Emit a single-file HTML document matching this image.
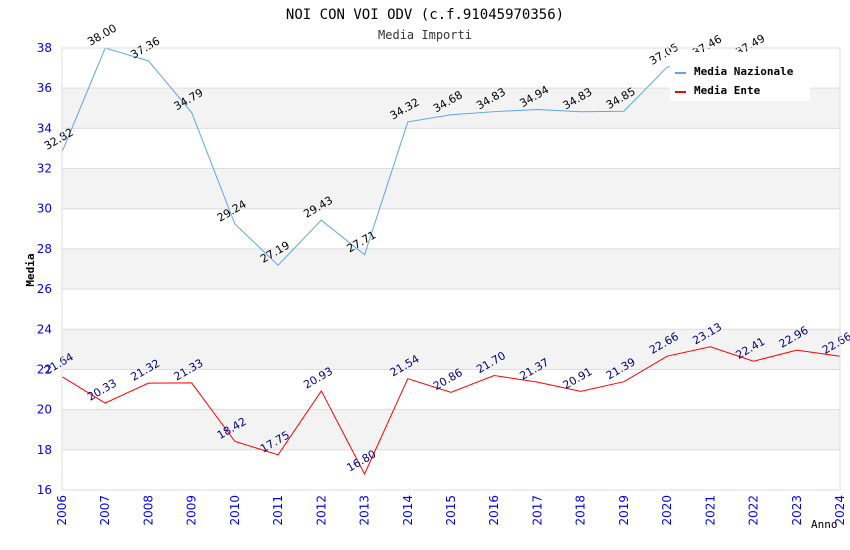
<!DOCTYPE html>
<html><head><meta charset="utf-8"><style>
body{margin:0;background:#fff}
svg{display:block;font-family:"DejaVu Sans Mono","Liberation Mono",monospace}
</style></head><body>
<svg id="chart" width="850" height="550" xmlns="http://www.w3.org/2000/svg">
<text x="425" y="19" text-anchor="middle" font-size="14">NOI CON VOI ODV (c.f.91045970356)</text>
<text x="425" y="39" text-anchor="middle" font-size="12" fill="#333">Media Importi</text>
<g id="grid"></g><g id="series"></g><g id="axes"></g>
<text transform="translate(34,270) rotate(-90)" text-anchor="middle" font-size="11" font-weight="bold">Media</text>
<text x="811" y="528" font-size="11">Anno</text>
<g id="legend">
<rect x="670" y="52" width="140" height="49" fill="#fff"/>
<line x1="675" y1="73" x2="686" y2="73" stroke="#5aa5f0" stroke-width="2"/>
<text x="694" y="75" font-size="11" font-weight="bold">Media Nazionale</text>
<line x1="675" y1="92" x2="686" y2="92" stroke="#f00" stroke-width="2"/>
<text x="694" y="94" font-size="11" font-weight="bold">Media Ente</text>
</g>
</svg>
<script>
const years=[2006,2007,2008,2009,2010,2011,2012,2013,2014,2015,2016,2017,2018,2019,2020,2021,2022,2023,2024];
const nazionale=[32.82,38.00,37.36,34.79,29.24,27.19,29.43,27.71,34.32,34.68,34.83,34.94,34.83,34.85,37.05,37.46,37.49,null,null];
const ente=[21.64,20.33,21.32,21.33,18.42,17.75,20.93,16.80,21.54,20.86,21.70,21.37,20.91,21.39,22.66,23.13,22.41,22.96,22.66];
const yTicks=[16,18,20,22,24,26,28,30,32,34,36,38];
const L=62,R=840,T=48,B=490,ymin=16,ymax=38;
const xs=i=>L+(R-L)*i/(years.length-1);
const ys=v=>B-(v-ymin)/(ymax-ymin)*(B-T);
const NS="http://www.w3.org/2000/svg";
function mk(t,a,p,txt){const e=document.createElementNS(NS,t);for(const k in a)e.setAttribute(k,a[k]);if(txt!=null)e.textContent=txt;p.appendChild(e);return e;}
const grid=document.getElementById('grid'),ser=document.getElementById('series'),ax=document.getElementById('axes');
for(let v=ymin;v<ymax;v+=2){if(((v-18)/2)%2===0){const r=mk('rect',{x:L,y:ys(v+2),width:R-L,height:ys(v)-ys(v+2),fill:'#f3f3f3'},grid);

}}
yTicks.forEach(v=>{const g=mk('line',{x1:L,x2:R,y1:ys(v),y2:ys(v),stroke:'#ddd'},grid);


const t=mk('text',{x:L-10,y:ys(v)+4,'text-anchor':'end','font-size':12,fill:'#00f','font-family':'DejaVu Sans, sans-serif'},ax,String(v));

});
mk('rect',{x:L,y:T,width:R-L,height:B-T,fill:'none',stroke:'#ddd'},ax);
years.forEach((y,i)=>{const t=mk('text',{transform:`translate(${xs(i)+4},${B+5}) rotate(-90)`,'text-anchor':'end','font-size':12,fill:'#00f','font-family':'DejaVu Sans, sans-serif'},ax,String(y));

});
function draw(vals,color,lblColor,name){let d='';vals.forEach((v,i)=>{if(v==null)return;d+=(d?'L':'M')+xs(i)+','+ys(v);});
const p=mk('path',{d:d,fill:'none',stroke:color,'stroke-width':1},ser);


vals.forEach((v,i)=>{if(v==null)return;const t=mk('text',{transform:`translate(${xs(i)-15},${ys(v)-2}) rotate(-30)`,'font-size':11,fill:lblColor,'font-family':'DejaVu Sans, sans-serif'},ser,v.toFixed(2));

});}
draw(nazionale,'#5aa5f0','#000','nazionale');
draw(ente,'#f00','#000080','ente');
document.getElementById('chart').appendChild(document.getElementById('legend'));
</script>
</body></html>
